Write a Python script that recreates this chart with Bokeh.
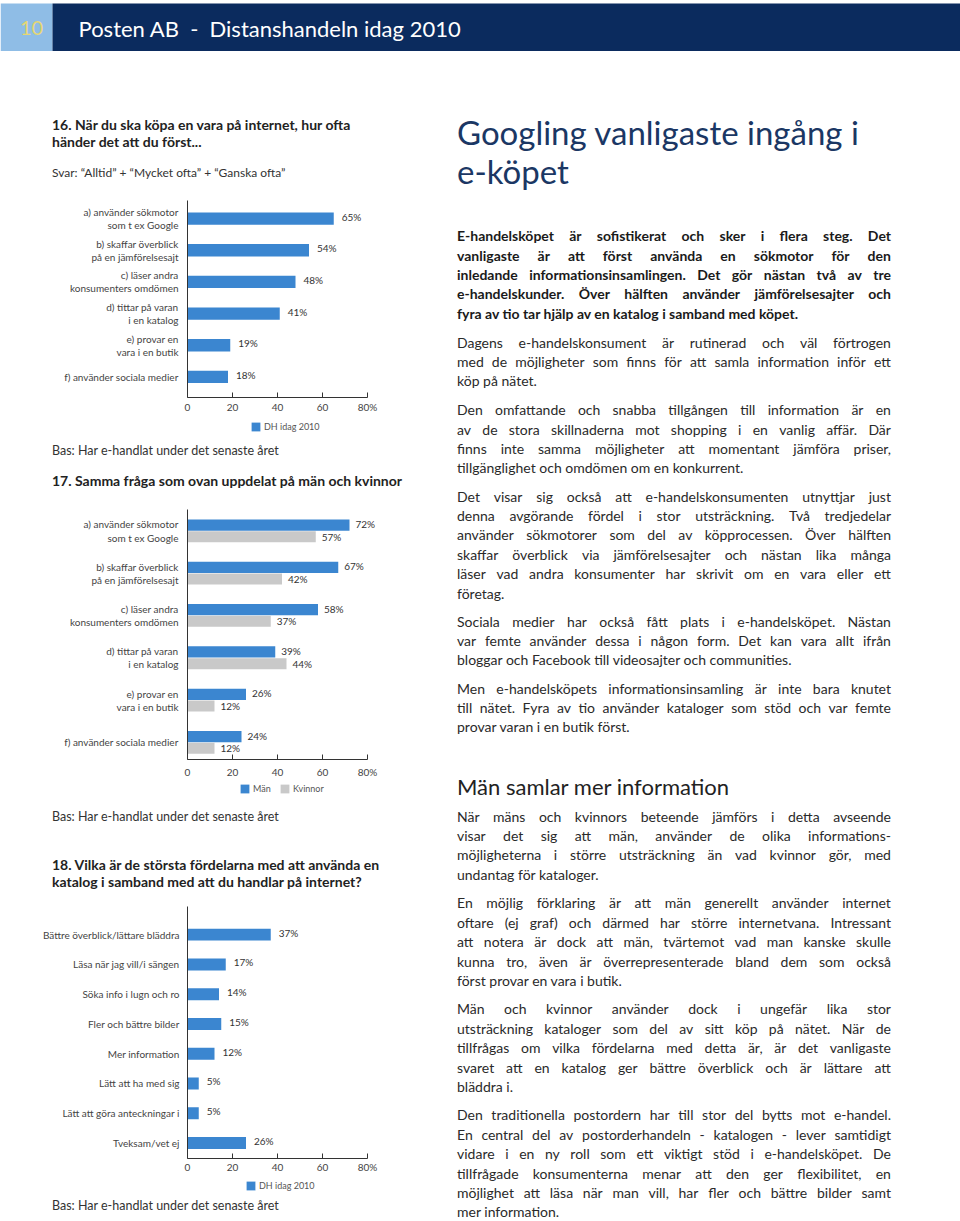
from bokeh.plotting import figure
from bokeh.models import Range1d, FixedTicker, Legend, LegendItem, Div, ColumnDataSource
from bokeh.layouts import column, row
from bokeh.embed import file_html
from bokeh.resources import INLINE
from bokeh.core.properties import value

FONT = "Lato"
BLUE = "#3b86d0"
GRAY = "#c9c9c9"
NAVY = "#0b2b5e"
LIGHT = "#8fbde6"
TXT = "#222222"
AX = "#333333"

PAGE_W = 960
LEFT_W = 457
RIGHT_W = PAGE_W - LEFT_W
HEADER_H = 51
RIGHT_H = 1221 - HEADER_H

# ---------------- data ----------------
page_no = "10"
header_title = "Posten AB\u00a0\u00a0-\u00a0\u00a0Distanshandeln idag 2010"

q16_title = ["16. När du ska köpa en vara på internet, hur ofta",
             "händer det att du först..."]
q16_sub = "Svar: \u201cAlltid\u201d + \u201cMycket ofta\u201d + \u201cGanska ofta\u201d"
q16_labels = ["a) använder sökmotor\nsom t ex Google",
              "b) skaffar överblick\npå en jämförelsesajt",
              "c) läser andra\nkonsumenters omdömen",
              "d) tittar på varan\ni en katalog",
              "e) provar en\nvara i en butik",
              "f) använder sociala medier"]
q16_values = [65, 54, 48, 41, 19, 18]
q16_series = "DH idag 2010"

q17_title = "17. Samma fråga som ovan uppdelat på män och kvinnor"
q17_men = [72, 67, 58, 39, 26, 24]
q17_women = [57, 42, 37, 44, 12, 12]
q17_series = ["Män", "Kvinnor"]

q18_title = ["18. Vilka är de största fördelarna med att använda en",
             "katalog i samband med att du handlar på internet?"]
q18_labels = ["Bättre överblick/lättare bläddra", "Läsa när jag vill/i sängen",
              "Söka info i lugn och ro", "Fler och bättre bilder", "Mer information",
              "Lätt att ha med sig", "Lätt att göra anteckningar i", "Tveksam/vet ej"]
q18_values = [37, 17, 14, 15, 12, 5, 5, 26]
q18_series = "DH idag 2010"

bas_text = "Bas: Har e-handlat under det senaste året"

x_ticks = [0, 20, 40, 60, 80]
x_tick_labels = ["0", "20", "40", "60", "80%"]

right_title = ["Googling vanligaste ingång i", "e-köpet"]
right_heading = "Män samlar mer information"
paragraphs = [
    (True, ["E-handelsköpet är sofistikerat och sker i flera steg. Det",
            "vanligaste är att först använda en sökmotor för den",
            "inledande informationsinsamlingen. Det gör nästan två av tre",
            "e-handelskunder. Över hälften använder jämförelsesajter och",
            "fyra av tio tar hjälp av en katalog i samband med köpet."]),
    (False, ["Dagens e-handelskonsument är rutinerad och väl förtrogen",
             "med de möjligheter som finns för att samla information inför ett",
             "köp på nätet."]),
    (False, ["Den omfattande och snabba tillgången till information är en",
             "av de stora skillnaderna mot shopping i en vanlig affär. Där",
             "finns inte samma möjligheter att momentant jämföra priser,",
             "tillgänglighet och omdömen om en konkurrent."]),
    (False, ["Det visar sig också att e-handelskonsumenten utnyttjar just",
             "denna avgörande fördel i stor utsträckning. Två tredjedelar",
             "använder sökmotorer som del av köpprocessen. Över hälften",
             "skaffar överblick via jämförelsesajter och nästan lika många",
             "läser vad andra konsumenter har skrivit om en vara eller ett",
             "företag."]),
    (False, ["Sociala medier har också fått plats i e-handelsköpet. Nästan",
             "var femte använder dessa i någon form. Det kan vara allt ifrån",
             "bloggar och Facebook till videosajter och communities."]),
    (False, ["Men e-handelsköpets informationsinsamling är inte bara knutet",
             "till nätet. Fyra av tio använder kataloger som stöd och var femte",
             "provar varan i en butik först."]),
    (False, ["När mäns och kvinnors beteende jämförs i detta avseende",
             "visar det sig att män, använder de olika informations-",
             "möjligheterna i större utsträckning än vad kvinnor gör, med",
             "undantag för kataloger."]),
    (False, ["En möjlig förklaring är att män generellt använder internet",
             "oftare (ej graf) och därmed har större internetvana. Intressant",
             "att notera är dock att män, tvärtemot vad man kanske skulle",
             "kunna tro, även är överrepresenterade bland dem som också",
             "först provar en vara i butik."]),
    (False, ["Män och kvinnor använder dock i ungefär lika stor",
             "utsträckning kataloger som del av sitt köp på nätet. När de",
             "tillfrågas om vilka fördelarna med detta är, är det vanligaste",
             "svaret att en katalog ger bättre överblick och är lättare att",
             "bläddra i."]),
    (False, ["Den traditionella postordern har till stor del bytts mot e-handel.",
             "En central del av postorderhandeln - katalogen - lever samtidigt",
             "vidare i en ny roll som ett viktigt stöd i e-handelsköpet. De",
             "tillfrågade konsumenterna menar att den ger flexibilitet, en",
             "möjlighet att läsa när man vill, har fler och bättre bilder samt",
             "mer information."]),
]
# page y of the middle of each paragraph's first line
para_y = [236.7, 343.3, 410.7, 497.3, 622.3, 689.3, 817.3, 904, 1010, 1116]
LINE_STEP = 19.35


# ---------------- helpers ----------------
def line_top(center, s, lh):
    # top of a CSS line box whose visual text middle sits at `center`
    return center - ((lh - 1.2 * s) / 2 + 0.677 * s)


def line_div(text, left, top, size, weight, color, lh, justify=False, width=434):
    base = (f"position:absolute;left:{left}px;top:{top:.1f}px;height:{lh}px;"
            f"line-height:{lh}px;font-size:{size}px;font-weight:{weight};color:{color};white-space:nowrap;")
    if justify:
        spans = "".join(f"<span>{w}</span>" for w in text.split(" "))
        return f'<div style="{base}width:{width}px;display:flex;justify-content:space-between;">{spans}</div>'
    return f'<div style="{base}">{text}</div>'


def block(w, h, parts):
    html = (f'<div style="position:relative;width:{w}px;height:{h}px;overflow:visible;'
            f'font-family:\'{FONT}\',sans-serif;">' + "".join(parts) + "</div>")
    return Div(text=html, width=w, height=h, margin=0)


def text_block(h, top0, items):
    parts = []
    for (x, c, t, s, wgt, col) in items:
        lh = round(1.25 * s)
        parts.append(line_div(t, x, line_top(c - top0, s, lh), s, wgt, col, lh))
    return block(LEFT_W, h, parts)


BL, BR = 187, 45   # chart borders: y axis at x=187, frame 225 px wide (0..100)


def bar_fig(h, top, frame_h, y_start, y_end, labels, x_standoff, y_standoff):
    p = figure(width=LEFT_W, height=h, x_range=Range1d(0, 100), y_range=Range1d(y_start, y_end),
               output_backend="svg", toolbar_location=None, tools="",
               min_border_left=BL, min_border_right=BR,
               min_border_top=top, min_border_bottom=h - top - frame_h,
               outline_line_color=None, background_fill_color="white", border_fill_color="white")
    p.grid.visible = False
    xa = p.xaxis[0]
    xa.bounds = (0, 80)
    xa.ticker = FixedTicker(ticks=x_ticks)
    xa.major_label_overrides = {t: l for t, l in zip(x_ticks, x_tick_labels)}
    xa.major_tick_in = 5
    xa.major_tick_out = 0
    xa.minor_tick_line_color = None
    xa.axis_line_color = AX
    xa.major_tick_line_color = AX
    xa.major_label_text_font = FONT
    xa.major_label_text_font_size = "10px"
    xa.major_label_text_color = "#444444"
    xa.major_label_standoff = x_standoff
    ya = p.yaxis[0]
    ya.ticker = FixedTicker(ticks=list(range(len(labels))))
    ya.major_label_overrides = {i: l for i, l in enumerate(labels)}
    ya.major_tick_line_color = None
    ya.minor_tick_line_color = None
    ya.axis_line_color = AX
    ya.major_label_text_font = FONT
    ya.major_label_text_font_size = "10px"
    ya.major_label_text_color = "#444444"
    ya.major_label_text_line_height = 1.1
    ya.major_label_standoff = y_standoff
    return p


def value_labels(p, src, xcol, ycol, tcol, xo, yo):
    p.text(x=xcol, y=ycol, text=tcol, source=src, x_offset=xo, y_offset=yo,
           text_font=value(FONT), text_font_size="10px", text_color="#333333",
           text_baseline="middle", text_align="left")


def legend_fig(h, entries, loc):
    # entries: (label, source, ycol, xcol, color); bars sit outside this strip's y range
    p = figure(width=LEFT_W, height=h, x_range=Range1d(0, 100), y_range=Range1d(100, 101),
               output_backend="svg", toolbar_location=None, tools="",
               min_border_left=BL, min_border_right=BR, min_border_top=0, min_border_bottom=0,
               x_axis_location=None, y_axis_location=None, outline_line_color=None,
               background_fill_color="white", border_fill_color="white")
    p.grid.visible = False
    items = []
    for lab, src, ycol, xcol, col in entries:
        r = p.hbar(y=ycol, right=xcol, left=0, height=0.4, source=src, fill_color=col, line_color=None)
        items.append(LegendItem(label=lab, renderers=[r]))
    lg = Legend(items=items, location=loc, orientation="horizontal", padding=0, margin=0,
                spacing=6, glyph_width=11, glyph_height=11, label_standoff=3, label_height=11,
                label_text_font=FONT, label_text_font_size="9px", label_text_color="#555555",
                border_line_color=None, background_fill_alpha=0)
    p.add_layout(lg)
    return p


# ---------------- header ----------------
hp = figure(width=PAGE_W, height=HEADER_H, x_range=Range1d(0, PAGE_W), y_range=Range1d(HEADER_H, 0),
            output_backend="svg", toolbar_location=None, tools="", min_border=0,
            x_axis_location=None, y_axis_location=None, outline_line_color=None,
            background_fill_color="white", border_fill_color="white")
hp.grid.visible = False
hp.quad(left=[0, 52], right=[52, PAGE_W], top=[3, 3], bottom=[HEADER_H, HEADER_H],
        fill_color=[LIGHT, NAVY], line_color=None)
hp.text(x=[31], y=[27.5], text=[page_no], text_font=value(FONT), text_font_size="20px",
        text_color="#e6d774", text_baseline="middle", text_align="center")
hp.text(x=[78], y=[27.5], text=[header_title], text_font=value(FONT), text_font_size="22px",
        text_color="white", text_baseline="middle", text_align="left")

# ---------------- left column ----------------
l1 = text_block(144, 51, [
    (52, 126, q16_title[0], 14, 700, TXT),
    (52, 143, q16_title[1], 14, 700, TXT),
    (52, 173, q16_sub, 12, 400, "#333333"),
])

n16 = len(q16_values)
c16 = bar_fig(220, 5, 198, 5.65, -0.57, q16_labels, 3, 3)
s16 = ColumnDataSource(dict(pos=list(range(n16)), v=q16_values, lab=[f"{v}%" for v in q16_values]))
c16.hbar(y="pos", right="v", left=0, height=0.39, source=s16, fill_color=BLUE, line_color=None)
value_labels(c16, s16, "v", "pos", "lab", 8, -2)
g16 = legend_fig(25, [(q16_series, s16, "pos", "v", BLUE)], (63, 8))

l2 = text_block(60, 440, [
    (52, 452, bas_text, 12.5, 400, "#333333"),
    (52, 482, q17_title, 14, 700, TXT),
])

n17 = len(q17_men)
c17 = bar_fig(280, 9, 250, 5.404, -0.506, q16_labels, 6, 3)
s17 = ColumnDataSource(dict(
    pm=[i - 0.138 for i in range(n17)], pw=[i + 0.138 for i in range(n17)],
    m=q17_men, w=q17_women,
    lm=[f"{v}%" for v in q17_men], lw=[f"{v}%" for v in q17_women]))
c17.hbar(y="pm", right="m", left=0, height=0.265, source=s17, fill_color=BLUE, line_color=None)
c17.hbar(y="pw", right="w", left=0, height=0.26, source=s17, fill_color=GRAY, line_color=None)
value_labels(c17, s17, "m", "pm", "lm", 6, -1)
value_labels(c17, s17, "w", "pw", "lw", 6, 0)
g17 = legend_fig(20, [(q17_series[0], s17, "pm", "m", BLUE),
                      (q17_series[1], s17, "pw", "w", GRAY)], (52, 6))

l3 = text_block(96, 800, [
    (52, 818, bas_text, 12.5, 400, "#333333"),
    (52, 866, q18_title[0], 14, 700, TXT),
    (52, 883, q18_title[1], 14, 700, TXT),
])

n18 = len(q18_values)
c18 = bar_fig(279, 10, 252, 7.52, -0.946, q18_labels, 2, 2)
s18 = ColumnDataSource(dict(pos=list(range(n18)), v=q18_values, lab=[f"{v}%" for v in q18_values]))
c18.hbar(y="pos", right="v", left=0, height=0.40, source=s18, fill_color=BLUE, line_color=None)
value_labels(c18, s18, "v", "pos", "lab", 8, -2)
g18 = legend_fig(20, [(q18_series, s18, "pos", "v", BLUE)], (58, 4))

l4 = text_block(26, 1195, [
    (52, 1207, bas_text, 12.5, 400, "#333333"),
])

left_col = column(l1, c16, g16, l2, c17, g17, l3, c18, g18, l4, spacing=0)

# ---------------- right column ----------------
parts = []
for i, t in enumerate(right_title):
    base_y = [145, 183.3][i]
    s, lh = 33, 40
    top = base_y - ((lh - 1.2 * s) / 2 + 0.987 * s) - HEADER_H
    parts.append(line_div(t, 0, top, s, 400, "#1b3764", lh))
s, lh = 22, 26
parts.append(line_div(right_heading, 0, 795 - ((lh - 1.2 * s) / 2 + 0.987 * s) - HEADER_H,
                      s, 400, "#222222", lh))
for (bold, lines), c0 in zip(paragraphs, para_y):
    for i, ln in enumerate(lines):
        last = i == len(lines) - 1
        top = line_top(c0 + i * LINE_STEP, 14, 19) - HEADER_H
        parts.append(line_div(ln, 0, top, 14, 700 if bold else 400,
                              "#1a1a1a" if bold else "#2a2a2a", 19, justify=not last))
right = block(RIGHT_W, RIGHT_H, parts)

page = column(hp, row(left_col, right, spacing=0), spacing=0)

open("out.html", "w").write(file_html(page, INLINE))
